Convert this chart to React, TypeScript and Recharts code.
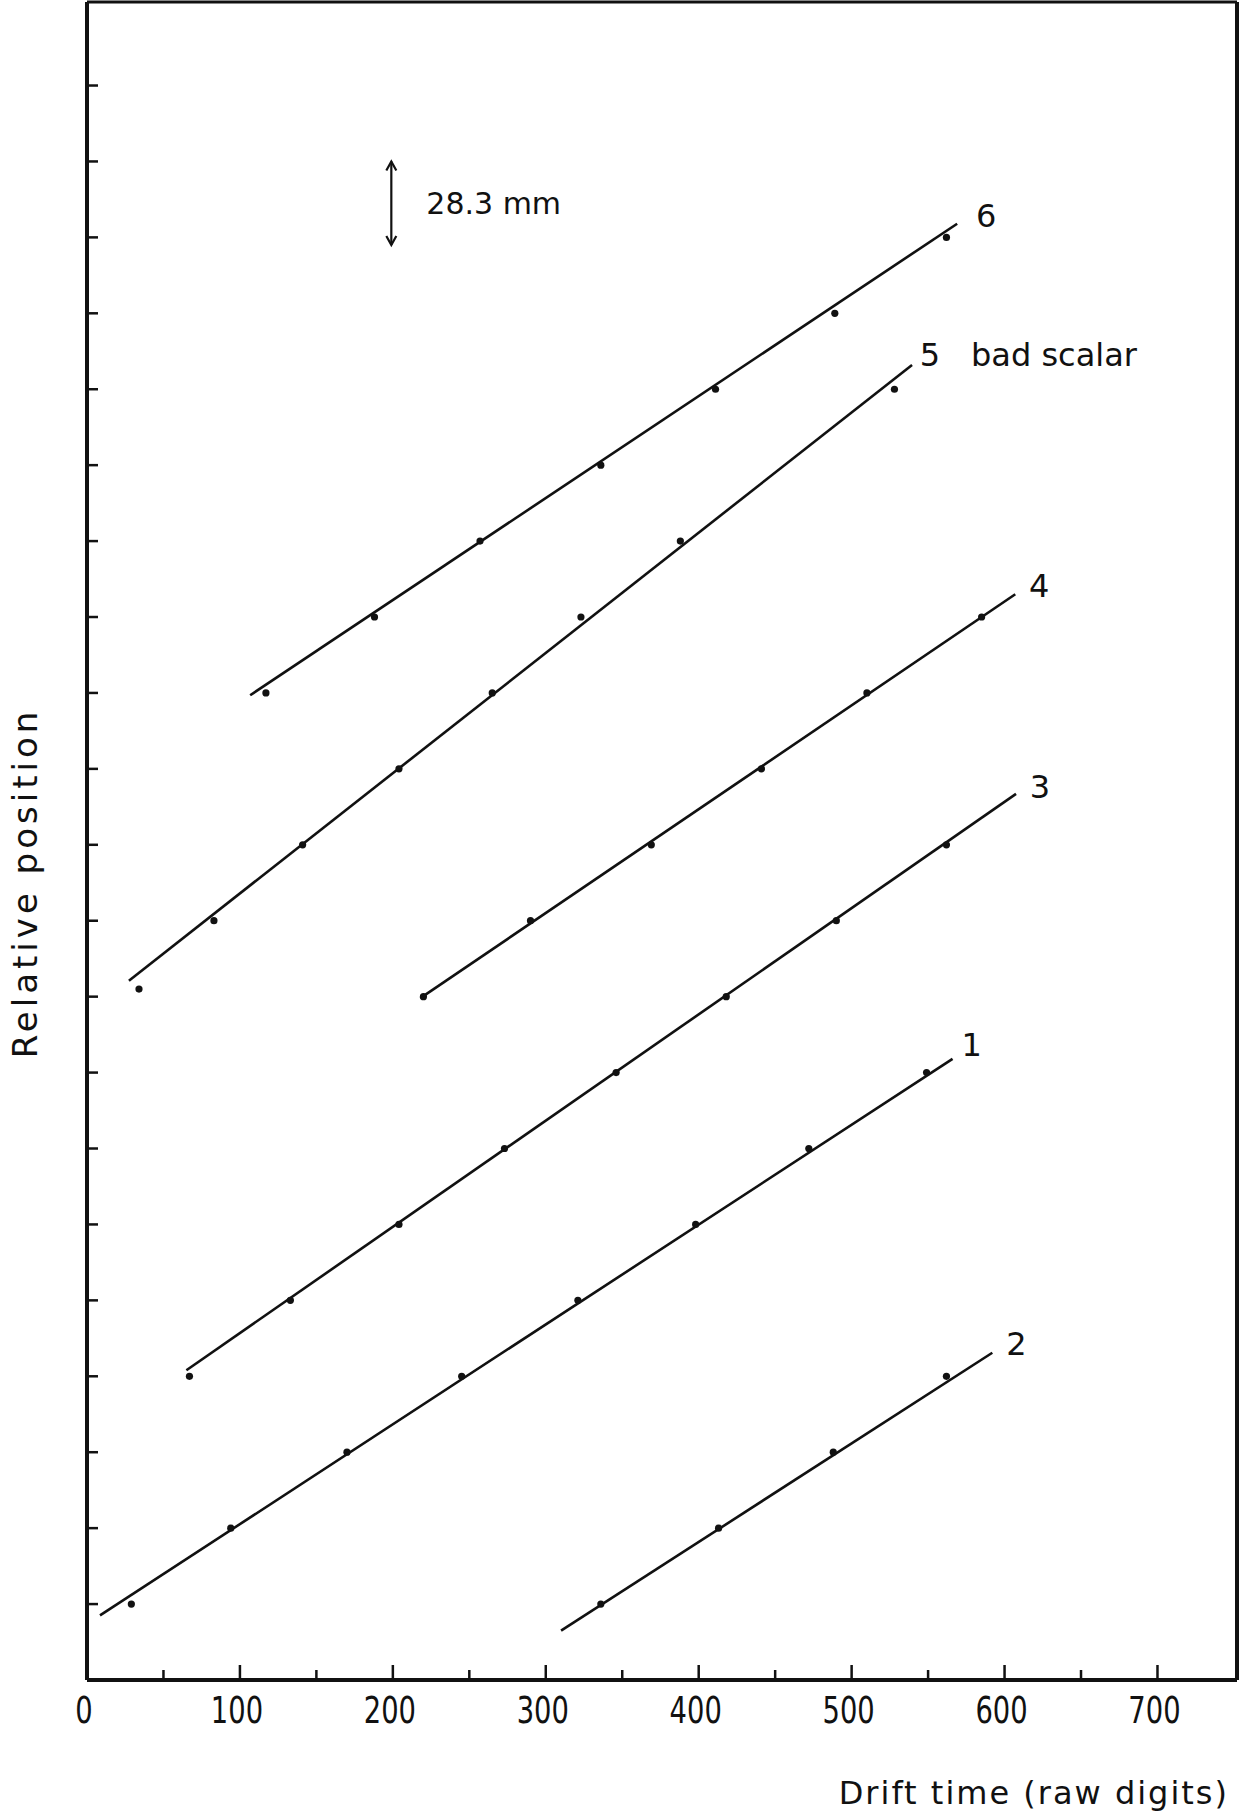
import React from "react";
import {
  ComposedChart,
  Line,
  Scatter,
  XAxis,
  YAxis,
  ReferenceLine,
  LabelList,
} from "recharts";

type Pt = { x: number; y: number };

// drift time readings for each wire, one per 28.3 mm step
const wire1Time = [29, 94, 170, 245, 321, 398, 472, 549];
const wire1Pos = [1, 2, 3, 4, 5, 6, 7, 8];
const wire2Time = [336, 413, 488, 562];
const wire2Pos = [1, 2, 3, 4];
const wire3Time = [67, 133, 204, 273, 346, 418, 490, 562];
const wire3Pos = [4, 5, 6, 7, 8, 9, 10, 11];
const wire4Time = [220, 290, 369, 441, 510, 585];
const wire4Pos = [9, 10, 11, 12, 13, 14];
const wire5Time = [34, 83, 141, 204, 265, 323, 388, 528];
const wire5Pos = [9.1, 10, 11, 12, 13, 14, 15, 17];
const wire6Time = [117, 188, 257, 336, 411, 489, 562];
const wire6Pos = [13, 14, 15, 16, 17, 18, 19];

// straight-line fits, start and end
const wire1Fit: Pt[] = [{ x: 8.5, y: 0.85 }, { x: 566, y: 8.18 }];
const wire2Fit: Pt[] = [{ x: 310, y: 0.65 }, { x: 592, y: 4.31 }];
const wire3Fit: Pt[] = [{ x: 65, y: 4.08 }, { x: 607.5, y: 11.67 }];
const wire4Fit: Pt[] = [{ x: 218, y: 8.98 }, { x: 607, y: 14.3 }];
const wire5Fit: Pt[] = [{ x: 27.4, y: 9.21 }, { x: 539.5, y: 17.32 }];
const wire6Fit: Pt[] = [{ x: 106.7, y: 12.97 }, { x: 569, y: 19.18 }];

const xTicks = [0, 50, 100, 150, 200, 250, 300, 350, 400, 450, 500, 550, 600, 650, 700];
const yTicks = [1, 2, 3, 4, 5, 6, 7, 8, 9, 10, 11, 12, 13, 14, 15, 16, 17, 18, 19, 20, 21];

const X_MAX = 752;
const Y_MAX = 22.1;

const toPoints = (t: number[], p: number[]): Pt[] => t.map((x, i) => ({ x, y: p[i] }));

const wires = [
  { name: "1", note: "", pts: toPoints(wire1Time, wire1Pos), fit: wire1Fit, dx: 19, dy: -3 },
  { name: "2", note: "", pts: toPoints(wire2Time, wire2Pos), fit: wire2Fit, dx: 24, dy: 2 },
  { name: "3", note: "", pts: toPoints(wire3Time, wire3Pos), fit: wire3Fit, dx: 24, dy: 4 },
  { name: "4", note: "", pts: toPoints(wire4Time, wire4Pos), fit: wire4Fit, dx: 24, dy: 3 },
  { name: "5", note: "bad scalar", pts: toPoints(wire5Time, wire5Pos), fit: wire5Fit, dx: 18, dy: 1 },
  { name: "6", note: "", pts: toPoints(wire6Time, wire6Pos), fit: wire6Fit, dx: 29, dy: 3 },
];

const INK = "#111";
const TEXT_FONT = "'DejaVu Sans', sans-serif";

const XTick = (props: any) => {
  const { x, y, payload } = props;
  const v = payload.value as number;
  const major = v % 100 === 0;
  return (
    <g>
      {v > 0 && (
        <line x1={x} x2={x} y1={y} y2={y - (major ? 15 : 10)} stroke={INK} strokeWidth={2.5} />
      )}
      {major && (
        // narrow, tall lettering for the scale numbers
        <text
          transform={`translate(${x - 3},${y + 43}) scale(0.74,1)`}
          textAnchor="middle"
          fontFamily={TEXT_FONT}
          fontSize={37}
          fill={INK}
        >
          {v}
        </text>
      )}
    </g>
  );
};

const YTick = (props: any) => {
  const { x, y } = props;
  return <line x1={x} x2={x + 11} y1={y} y2={y} stroke={INK} strokeWidth={2.5} />;
};

// wire number (and remark) just past the end of each fitted line
const endLabel = (name: string, note: string, dx: number, dy: number) => (props: any) => {
  if (props.index !== 1) return null;
  const px = props.x ?? props.viewBox?.x;
  const py = props.y ?? props.viewBox?.y;
  return (
    <text x={px + dx} y={py + dy} textAnchor="middle" fontFamily={TEXT_FONT} fontSize={32} fill={INK}>
      <tspan>{name}</tspan>
      {note && (
        <tspan x={px + dx + 41} textAnchor="start">
          {note}
        </tspan>
      )}
    </text>
  );
};

// 28.3 mm scale marker
const ScaleArrow = (props: any) => {
  const { x1, y1, x2, y2 } = props;
  const top = Math.min(y1, y2);
  const bot = Math.max(y1, y2);
  return (
    <g stroke={INK} strokeWidth={2.2} fill="none">
      <line x1={x1} x2={x2} y1={top} y2={bot} />
      <polyline points={`${x1 - 5},${top + 9} ${x1},${top} ${x1 + 5},${top + 9}`} />
      <polyline points={`${x1 - 5},${bot - 9} ${x1},${bot} ${x1 + 5},${bot - 9}`} />
      <text
        x={x1 + 35}
        y={(top + bot) / 2 + 11}
        stroke="none"
        fill={INK}
        fontFamily={TEXT_FONT}
        fontSize={30}
      >
        28.3 mm
      </text>
    </g>
  );
};

const XTitle = (props: any) => {
  const vb = props.viewBox;
  return (
    <text
      x={vb.x + vb.width - 8}
      y={vb.y + 124}
      textAnchor="end"
      fontFamily={TEXT_FONT}
      fontSize={32}
      letterSpacing={2}
      fill={INK}
    >
      Drift  time (raw digits)
    </text>
  );
};

const YTitle = (props: any) => {
  const vb = props.viewBox;
  const cx = vb.x + 25;
  const cy = vb.y + vb.height / 2 + 42;
  return (
    <text
      x={cx}
      y={cy}
      textAnchor="middle"
      dominantBaseline="central"
      transform={`rotate(-90 ${cx} ${cy})`}
      fontFamily={TEXT_FONT}
      fontSize={34}
      letterSpacing={4}
      fill={INK}
    >
      Relative position
    </text>
  );
};

const App: React.FC = () => {
  return (
    <div style={{ position: "absolute", left: 0, top: 0, background: "#fff" }}>
      <ComposedChart
        width={1250}
        height={1816}
        margin={{ top: 2, right: 13, bottom: 0, left: 0 }}
      >
        <XAxis
          type="number"
          dataKey="x"
          domain={[0, X_MAX]}
          ticks={xTicks}
          interval={0}
          allowDataOverflow
          height={136}
          tickSize={0}
          tickMargin={0}
          tickLine={false}
          tick={<XTick />}
          axisLine={{ stroke: INK, strokeWidth: 4 }}
          label={{ content: <XTitle /> }}
        />
        <YAxis
          type="number"
          domain={[0, Y_MAX]}
          ticks={yTicks}
          interval={0}
          allowDataOverflow
          width={87}
          tickSize={0}
          tickMargin={0}
          tickLine={false}
          tick={<YTick />}
          axisLine={{ stroke: INK, strokeWidth: 4 }}
          label={{ content: <YTitle /> }}
        />
        <ReferenceLine y={Y_MAX} stroke={INK} strokeWidth={3} />
        <ReferenceLine x={X_MAX} stroke={INK} strokeWidth={4} />
        <ReferenceLine
          segment={[
            { x: 199, y: 18.9 },
            { x: 199, y: 20.0 },
          ]}
          shape={<ScaleArrow />}
        />
        {wires.map((w) => (
          <Line
            key={`fit${w.name}`}
            data={w.fit}
            dataKey="y"
            type="linear"
            stroke={INK}
            strokeWidth={2.6}
            dot={false}
            activeDot={false}
            isAnimationActive={false}
          >
            <LabelList dataKey="y" content={endLabel(w.name, w.note, w.dx, w.dy)} />
          </Line>
        ))}
        {wires.map((w) => (
          <Scatter
            key={`pts${w.name}`}
            data={w.pts}
            dataKey="y"
            fill={INK}
            shape={(p: any) => <circle cx={p.cx} cy={p.cy} r={3.6} fill={INK} />}
            isAnimationActive={false}
          />
        ))}
      </ComposedChart>
    </div>
  );
};

export default App;
